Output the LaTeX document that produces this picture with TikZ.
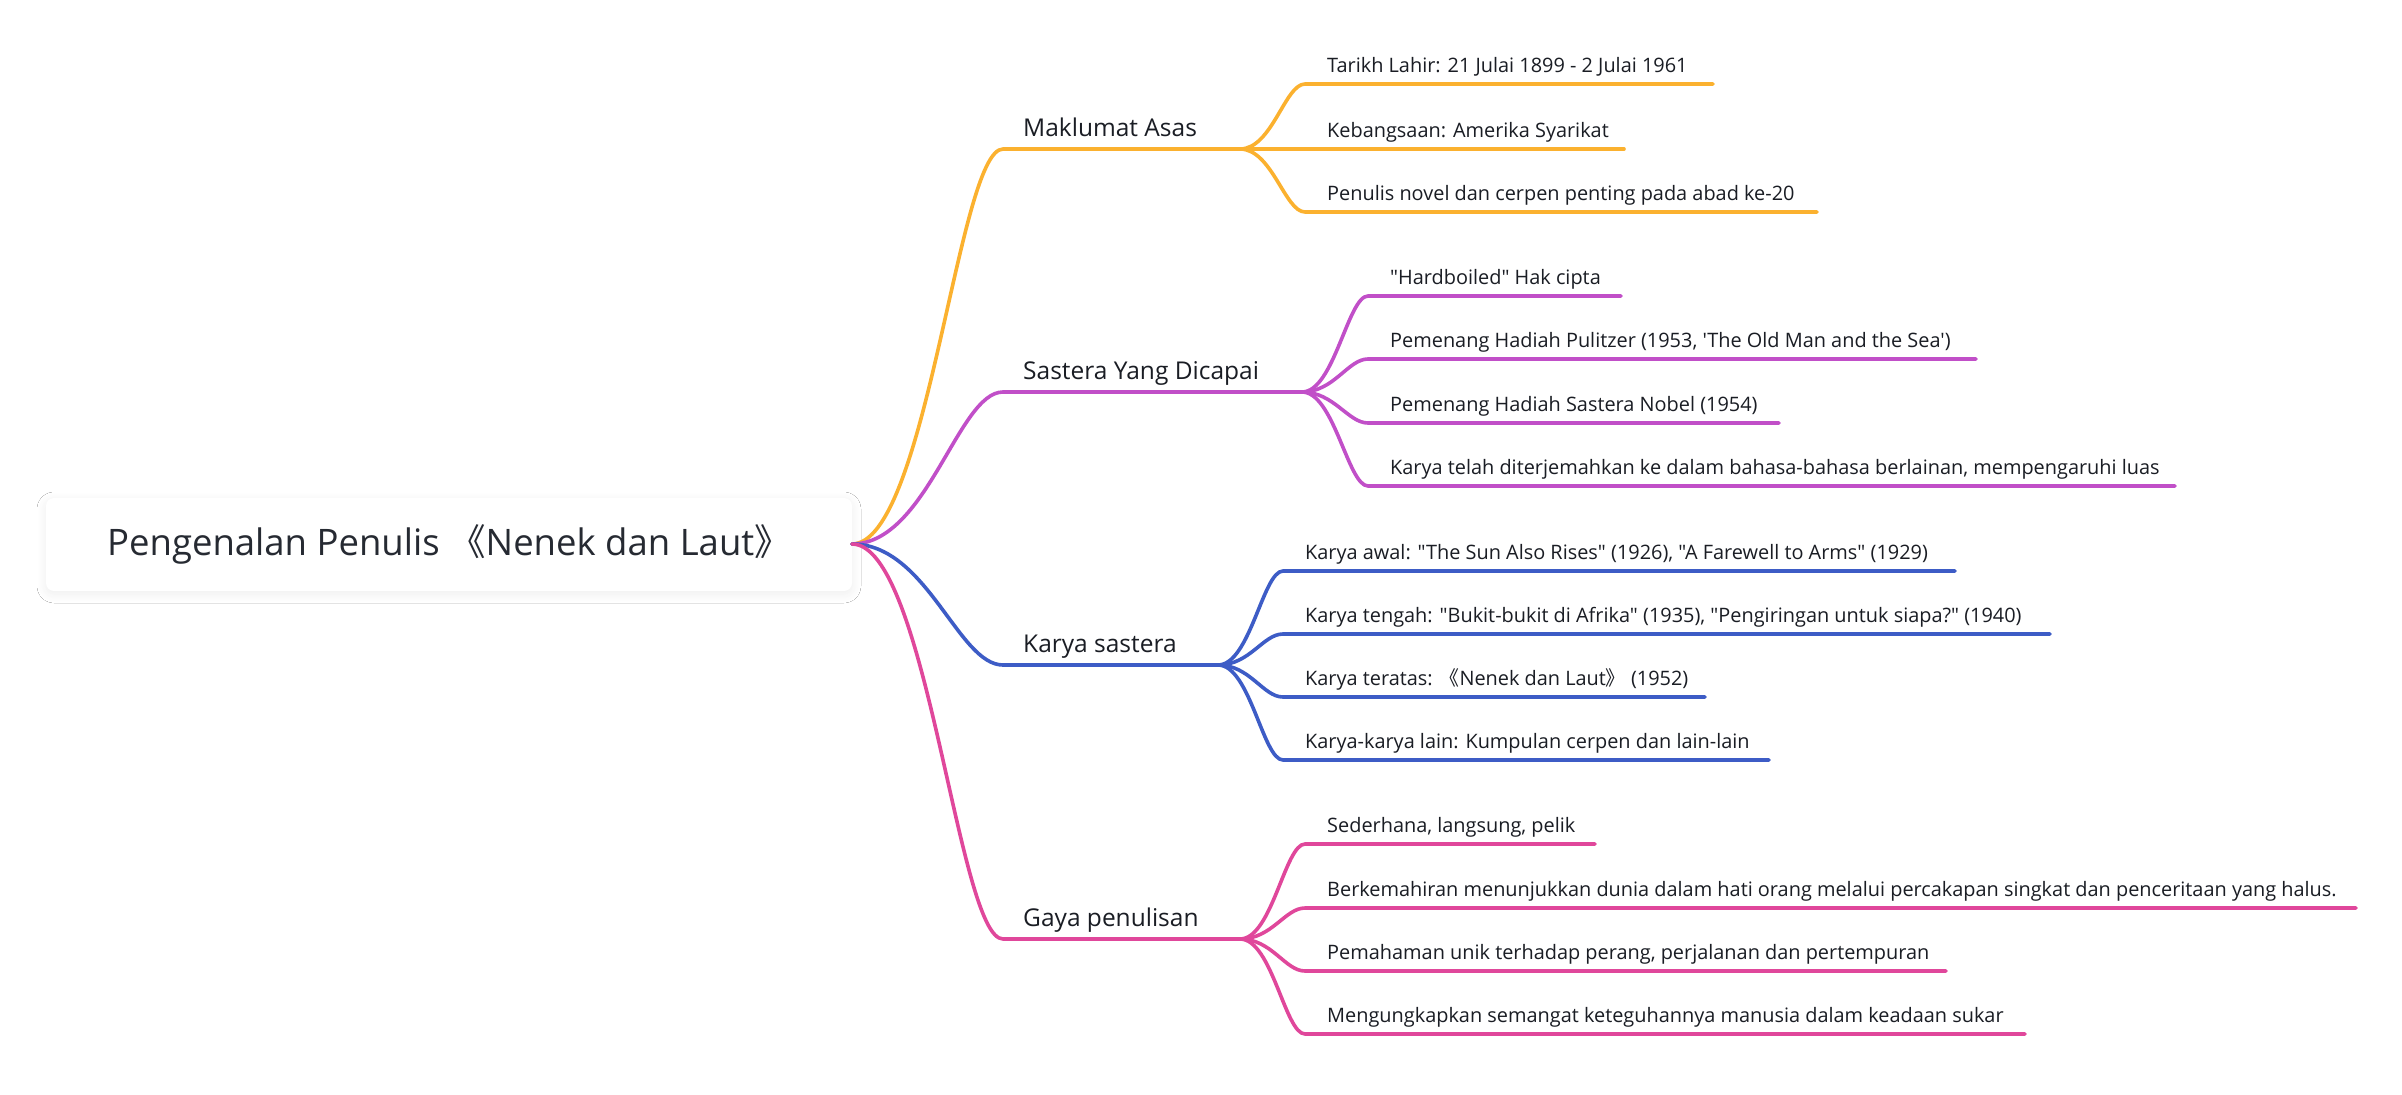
\documentclass[tikz,border=0pt]{standalone}
\usepackage{fontspec}
\setmainfont{Open Sans}[Ligatures=TeXOff]
\newfontfamily\cjk{Noto Sans CJK SC}
\usetikzlibrary{shadows.blur}
\definecolor{cOr}{HTML}{FBB12F}
\definecolor{cPu}{HTML}{C14FC8}
\definecolor{cBl}{HTML}{3D5CC6}
\definecolor{cPk}{HTML}{E0479B}
\definecolor{txt}{HTML}{1A1D24}
\definecolor{roottxt}{HTML}{262A32}
\tikzset{
  conn/.style={line width=3.6pt, line cap=round},
  rootbox/.style={fill=white, rounded corners=8pt, minimum width=806pt, minimum height=93pt,
    inner sep=0pt, text=roottxt, font=\fontsize{36.5}{40}\selectfont,
    blur shadow={shadow xshift=0pt, shadow yshift=-3pt, shadow blur radius=9pt, shadow blur steps=12, shadow opacity=7}},
  limbtext/.style={anchor=base west, inner sep=0pt, text=txt, font=\fontsize{24.5}{28}\selectfont},
  leaf/.style={anchor=base west, inner sep=0pt, text=txt, font=\fontsize{19.9}{23}\selectfont}
}
% level-1 branch: name, colour, y, branch x, text
\newcommand\limb[5]{%
  \coordinate (#1-s) at (1003,#3);
  \coordinate (#1-b) at (#4,#3);
  \draw[conn,#2] (root-e) .. controls +(75,0) and +(-45,0) .. (#1-s) -- (#1-b);
  \node[limbtext] (#1) at (1023,#3-13) {#5};
}
% level-2 leaf: name, colour, parent coordinate, y, text x, end x, text
\newcommand\twig[7]{%
  \coordinate (#1-s) at (#5-22,#4);
  \coordinate (#1-e) at (#6,#4);
  \draw[conn,#2] (#3) .. controls +(32,0) and +(-20,0) .. (#1-s) -- (#1-e);
  \node[leaf] (#1) at (#5,#4-12) {#7};
}
\begin{document}
\begin{tikzpicture}[x=1pt,y=-1pt]
\useasboundingbox (0,0) rectangle (2402,1095);
\fill[white] (0,0) rectangle (2402,1095);

\node[rootbox] (root) at (449,544.5) {Pengenalan Penulis {\cjk 《}Nenek dan Laut{\cjk 》}};
\coordinate (root-e) at (852,544);

\limb{mk}{cOr}{149}{1240}{Maklumat Asas}
\limb{sy}{cPu}{392}{1302}{Sastera Yang Dicapai}
\limb{ks}{cBl}{665}{1218}{Karya sastera}
\limb{gp}{cPk}{939}{1240}{Gaya penulisan}

\twig{mk1}{cOr}{mk-b}{84}{1327}{1713}{Tarikh Lahir: 21 Julai 1899 - 2 Julai 1961}
\twig{mk2}{cOr}{mk-b}{149}{1327}{1624}{Kebangsaan: Amerika Syarikat}
\twig{mk3}{cOr}{mk-b}{212}{1327}{1817}{Penulis novel dan cerpen penting pada abad ke-20}

\twig{sy1}{cPu}{sy-b}{296}{1390}{1621}{"Hardboiled" Hak cipta}
\twig{sy2}{cPu}{sy-b}{359}{1390}{1976}{Pemenang Hadiah Pulitzer (1953, 'The Old Man and the Sea')}
\twig{sy3}{cPu}{sy-b}{423}{1390}{1779}{Pemenang Hadiah Sastera Nobel (1954)}
\twig{sy4}{cPu}{sy-b}{486}{1390}{2175}{Karya telah diterjemahkan ke dalam bahasa-bahasa berlainan, mempengaruhi luas}

\twig{ks1}{cBl}{ks-b}{571}{1305}{1955}{Karya awal: "The Sun Also Rises" (1926), "A Farewell to Arms" (1929)}
\twig{ks2}{cBl}{ks-b}{634}{1305}{2050}{Karya tengah: "Bukit-bukit di Afrika" (1935), "Pengiringan untuk siapa?" (1940)}
\twig{ks3}{cBl}{ks-b}{697}{1305}{1705}{Karya teratas: {\cjk 《}Nenek dan Laut{\cjk 》} (1952)}
\twig{ks4}{cBl}{ks-b}{760}{1305}{1769}{Karya-karya lain: Kumpulan cerpen dan lain-lain}

\twig{gp1}{cPk}{gp-b}{844}{1327}{1595}{Sederhana, langsung, pelik}
\twig{gp2}{cPk}{gp-b}{908}{1327}{2356}{Berkemahiran menunjukkan dunia dalam hati orang melalui percakapan singkat dan penceritaan yang halus.}
\twig{gp3}{cPk}{gp-b}{971}{1327}{1946}{Pemahaman unik terhadap perang, perjalanan dan pertempuran}
\twig{gp4}{cPk}{gp-b}{1034}{1327}{2025}{Mengungkapkan semangat keteguhannya manusia dalam keadaan sukar}
\end{tikzpicture}
\end{document}
